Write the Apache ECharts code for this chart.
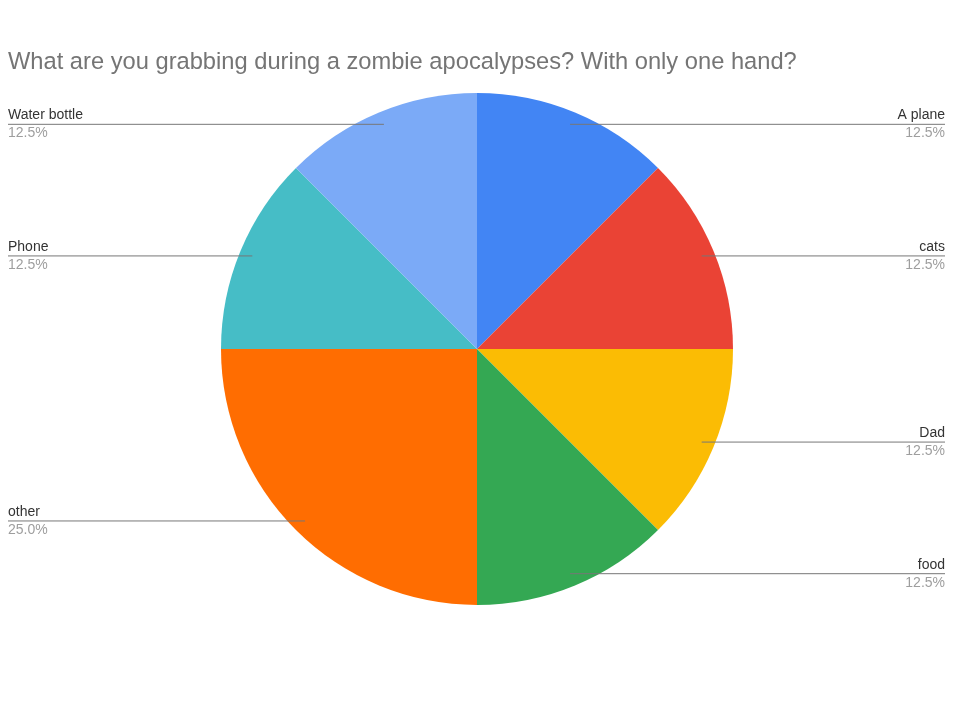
<!DOCTYPE html>
<html><head><meta charset="utf-8">
<script src="https://cdn.jsdelivr.net/npm/echarts@6/dist/echarts.min.js"></script>
<style>html,body{margin:0;padding:0;background:#fff}#c{width:960px;height:720px}</style>
</head><body><div id="c"></div>
<script>
var titleText = 'What are you grabbing during a zombie apocalypses? With only one hand?';
var categories = ['A plane', 'cats', 'Dad', 'food', 'other', 'Phone', 'Water bottle'];
var values = [1, 1, 1, 1, 2, 1, 1];
var colors = ['#4285F4', '#EA4335', '#FBBC04', '#34A853', '#FF6D01', '#46BDC6', '#7BAAF7'];

var chart = echarts.init(document.getElementById('c'));
var data = categories.map(function (c, i) { return { name: c, value: values[i], itemStyle: { color: colors[i] } }; });
var labelData = categories.map(function (c, i) { return { name: c, value: values[i] }; });
var W = 960, cx = 477, cy = 349, R = 256;

chart.setOption({
  backgroundColor: '#fff',
  animation: false,
  title: {
    text: titleText, left: 3, top: 45,
    textStyle: { fontFamily: 'Arial, "Liberation Sans", sans-serif', fontSize: 23.7, fontWeight: 'normal', color: '#757575' }
  },
  series: [{
    type: 'pie', center: [cx, cy], radius: R, startAngle: 90, clockwise: true,
    silent: true, label: { show: false }, labelLine: { show: false },
    itemStyle: { borderWidth: 0 }, data: data
  }, {
    type: 'pie', center: [cx, cy], radius: R * 0.95, startAngle: 90, clockwise: true,
    silent: true, avoidLabelOverlap: false, z: 3,
    itemStyle: { color: 'rgba(0,0,0,0)', borderWidth: 0 },
    label: {
      show: true, position: 'outer',
      formatter: function (p) { return '{n|' + p.name + '}\n{p|' + p.percent.toFixed(1) + '%}'; },
      rich: {
        n: { fontFamily: 'Arial, "Liberation Sans", sans-serif', fontSize: 14, color: '#333', lineHeight: 18 },
        p: { fontFamily: 'Arial, "Liberation Sans", sans-serif', fontSize: 14, color: '#9e9e9e', lineHeight: 18 }
      }
    },
    labelLine: { show: true, length: 4, length2: 4, lineStyle: { color: '#777', width: 1 } },
    labelLayout: function (p) {
      var pts = p.labelLinePoints;
      var s = pts[0];
      var right = s[0] > cx;
      var edge = right ? W - 15 : 8;
      return {
        x: edge, y: s[1], align: right ? 'right' : 'left', verticalAlign: 'middle',
        labelLinePoints: [[s[0], s[1]], [s[0], s[1]], [edge, s[1]]]
      };
    },
    data: labelData
  }]
});
</script>
</body></html>
